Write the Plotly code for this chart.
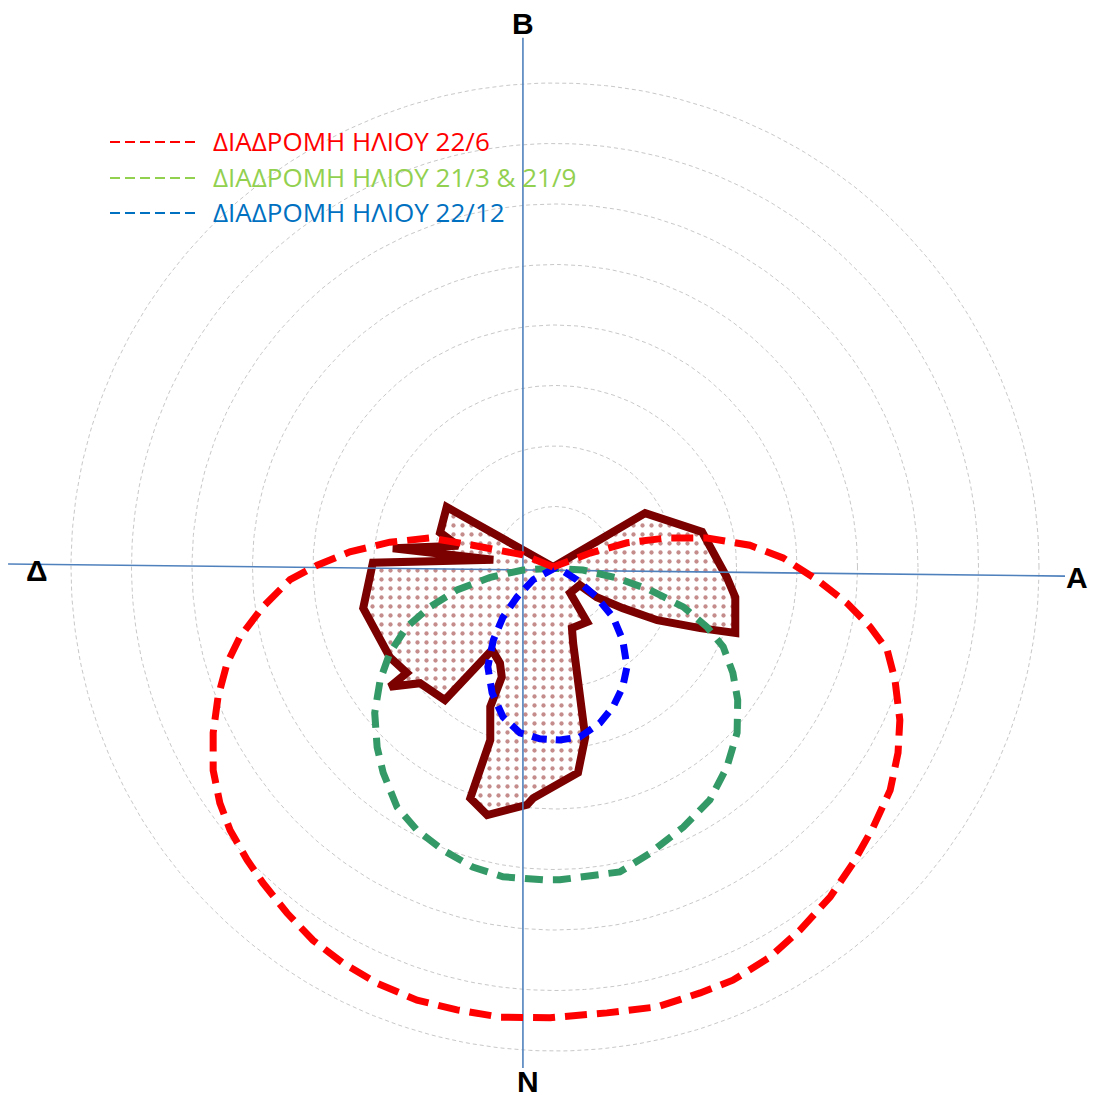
import numpy as np
import plotly.graph_objects as go

# ---- data (units: grid-ring spacing; x = east, y = north, origin = plot centre) ----
ring_radii = [1, 2, 3, 4, 5, 6, 7, 8]

sun_jun_x = [-0.03, -0.53, -1.36, -2.07, -2.73, -3.39, -3.93, -4.38, -4.83, -5.21, -5.42, -5.57, -5.65,
             -5.65, -5.54, -5.37, -5.09, -4.83, -4.43, -4.00, -3.50, -2.94, -2.28, -1.62, -0.91, -0.08,
             0.86, 1.69, 2.40, 2.94, 3.55, 4.05, 4.55, 4.93, 5.26, 5.54, 5.67, 5.70, 5.62, 5.49, 5.21,
             4.83, 4.33, 3.77, 3.22, 2.51, 1.85, 1.19, 0.58, -0.03]
sun_jun_y = [0.00, 0.20, 0.36, 0.48, 0.41, 0.25, 0.03, -0.21, -0.66, -1.16, -1.59, -2.15, -2.74,
             -3.36, -3.90, -4.35, -4.84, -5.22, -5.72, -6.17, -6.55, -6.88, -7.16, -7.32, -7.44, -7.45,
             -7.37, -7.27, -7.04, -6.83, -6.45, -6.00, -5.45, -4.89, -4.30, -3.69, -3.07, -2.53, -1.87,
             -1.37, -0.99, -0.60, -0.21, 0.15, 0.36, 0.48, 0.48, 0.40, 0.23, 0.00]

sun_eq_x = [-0.03, -0.53, -1.07, -1.62, -2.07, -2.45, -2.73, -2.89, -2.98, -2.94, -2.84, -2.61, -2.28,
            -1.85, -1.36, -0.86, -0.20, 0.08, 1.07, 1.57, 2.12, 2.56, 2.84, 3.01, 3.02, 2.94, 2.78,
            2.51, 2.12, 1.57, 1.02, 0.46, -0.03]
sun_eq_y = [-0.02, -0.05, -0.17, -0.38, -0.66, -0.99, -1.42, -1.87, -2.41, -2.98, -3.40, -3.97, -4.35,
            -4.68, -4.96, -5.12, -5.17, -5.17, -5.04, -4.73, -4.30, -3.85, -3.31, -2.74, -2.20, -1.75,
            -1.32, -0.99, -0.66, -0.38, -0.18, -0.05, -0.02]

sun_dec_x = [0.03, -0.36, -0.63, -0.86, -1.02, -1.11, -1.04, -0.86, -0.58, -0.25, 0.08, 0.41, 0.74,
             0.96, 1.12, 1.19, 1.12, 0.96, 0.69, 0.36, 0.03]
sun_dec_y = [0.00, -0.21, -0.50, -0.83, -1.21, -1.65, -2.08, -2.48, -2.74, -2.84, -2.86, -2.81, -2.58,
             -2.31, -1.98, -1.65, -1.21, -0.83, -0.50, -0.21, 0.00]

rose_x = [-0.03, 1.49, 2.43, 2.84, 2.98, 2.98, 2.40, 1.69, 1.12, 0.69, 0.41, 0.25, 0.53, 0.28, 0.30,
          0.50, 0.38, -0.13, -0.36, -0.46, -1.12, -1.40, -1.07, -1.07, -0.88, -0.91, -1.04, -1.82,
          -2.23, -2.73, -2.45, -2.73, -3.17, -3.01, -1.02, -2.68, -1.60, -1.90, -1.79, -0.03]
rose_y = [0.00, 0.89, 0.58, -0.17, -0.50, -1.09, -1.01, -0.88, -0.68, -0.50, -0.30, -0.43, -0.91,
          -1.01, -1.26, -2.81, -3.40, -3.69, -3.82, -3.93, -4.10, -3.82, -2.86, -2.31, -1.82, -1.59,
          -1.37, -2.20, -1.92, -1.98, -1.75, -1.49, -0.68, 0.07, 0.12, 0.31, 0.35, 0.57, 0.99, 0.00]

# compass axes (decorative lines) and labels
ns_axis_x = [-0.53, -0.53]
ns_axis_y = [8.75, -8.28]
ew_axis_x = [-9.04, 8.43]
ew_axis_y = [0.05, -0.15]
compass_labels = ["B", "N", "Δ", "A"]
compass_x = [-0.53, -0.45, -8.57, 8.62]
compass_y = [8.98, -8.50, -0.05, -0.17]

legend_texts = ["ΔΙΑΔΡΟΜΗ ΗΛΙΟΥ 22/6", "ΔΙΑΔΡΟΜΗ ΗΛΙΟΥ 21/3 & 21/9", "ΔΙΑΔΡΟΜΗ ΗΛΙΟΥ 22/12"]
legend_colors = ["#FF0000", "#92D050", "#0070C0"]

# ---- geometry of the page (body has an 8px margin) ----
OFF = 8
W, H = 1097 - OFF, 1099 - OFF
SCALE = 60.5            # px per ring
CX, CY = 555, 567       # page px of the centre


def px(xp):
    return (xp - OFF) / W


def py(yp):
    return 1 - (yp - OFF) / H


fig = go.Figure()

t = np.linspace(0, 2 * np.pi, 361)
for r in ring_radii:
    fig.add_trace(go.Scatter(x=r * np.cos(t), y=r * np.sin(t), mode="lines",
                             line=dict(color="#C8C8C8", width=1, dash="4px,3px"),
                             hoverinfo="skip", showlegend=False))

fig.add_trace(go.Scatter(x=rose_x, y=rose_y, mode="lines", fill="toself",
                         fillpattern=dict(shape=".", fgcolor="#8B1A1A", bgcolor="white",
                                          size=9, solidity=0.18),
                         line=dict(color="#7B0000", width=8), showlegend=False))

fig.add_trace(go.Scatter(x=ns_axis_x, y=ns_axis_y, mode="lines",
                         line=dict(color="#4F81BD", width=1.6), showlegend=False))
fig.add_trace(go.Scatter(x=ew_axis_x, y=ew_axis_y, mode="lines",
                         line=dict(color="#4F81BD", width=1.6), showlegend=False))

fig.add_trace(go.Scatter(x=sun_eq_x, y=sun_eq_y, mode="lines",
                         line=dict(color="#339966", width=7, dash="18px,10px"), showlegend=False))
fig.add_trace(go.Scatter(x=sun_dec_x, y=sun_dec_y, mode="lines",
                         line=dict(color="#0000FF", width=7, dash="15px,9px"), showlegend=False))
fig.add_trace(go.Scatter(x=sun_jun_x, y=sun_jun_y, mode="lines",
                         line=dict(color="#FF0000", width=7, dash="22px,10px"), showlegend=False))

for lab, lx, ly in zip(compass_labels, compass_x, compass_y):
    fig.add_annotation(x=lx, y=ly, text="<b>%s</b>" % lab, showarrow=False,
                       yanchor="middle", xanchor="center",
                       font=dict(family="Liberation Sans", size=30, color="black"))

legend_y = [141, 177, 212]
for txt, col, yp in zip(legend_texts, legend_colors, legend_y):
    fig.add_shape(type="line", xref="paper", yref="paper",
                  x0=px(110), x1=px(198), y0=py(yp + 1), y1=py(yp + 1),
                  line=dict(color=col, width=2, dash="10px,5px"))
    fig.add_annotation(x=px(211), y=py(yp), xref="paper", yref="paper",
                       xanchor="left", yanchor="middle",
                       text=txt, showarrow=False,
                       font=dict(family="Open Sans", size=26, color=col))

fig.update_layout(width=W, height=H, margin=dict(l=0, r=0, t=0, b=0),
                  paper_bgcolor="white", plot_bgcolor="white", showlegend=False,
                  xaxis=dict(range=[(OFF - CX) / SCALE, (1097 - CX) / SCALE],
                             visible=False, fixedrange=True),
                  yaxis=dict(range=[(CY - 1099) / SCALE, (CY - OFF) / SCALE],
                             visible=False, fixedrange=True))

fig.write_html("out.html")
